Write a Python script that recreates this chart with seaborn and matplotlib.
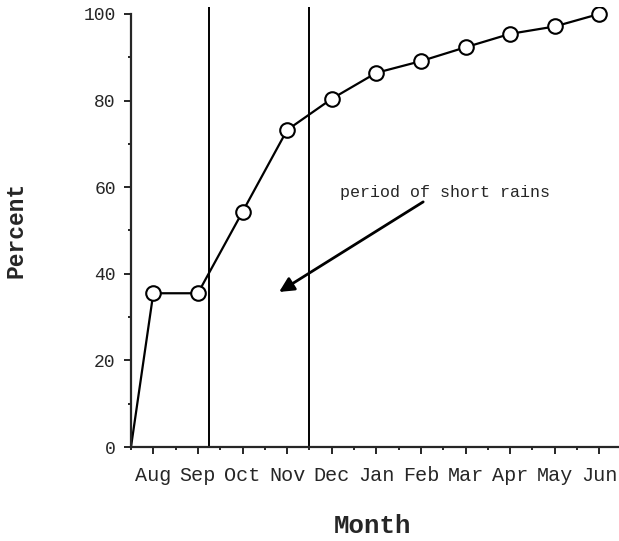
import matplotlib
matplotlib.use("Agg")
import matplotlib.pyplot as plt
import pandas as pd
import seaborn as sns

# ── Data ──────────────────────────────────────────────────────────────────────
MONTHS  = ["Aug", "Sep", "Oct", "Nov", "Dec", "Jan", "Feb", "Mar", "Apr", "May", "Jun"]
PERCENT = [35.5, 35.5, 54.3, 73.2, 80.4, 86.4, 89.1, 92.3, 95.4, 97.1, 100]
START_POS, START_VAL = 0.5, 0          # curve starts at the origin
RAIN_START, RAIN_END = 2.25, 4.5       # period of short rains (month positions)

month_pos = list(range(1, len(MONTHS) + 1))
df = pd.DataFrame({"pos": [START_POS] + month_pos, "pct": [START_VAL] + PERCENT})
df_marks = pd.DataFrame({"pos": month_pos, "pct": PERCENT})

# ── Style ─────────────────────────────────────────────────────────────────────
sns.set_style("ticks")
plt.rcParams["font.family"] = ["Liberation Mono", "DejaVu Sans Mono"]

fig = plt.figure(figsize=(6.19, 5.41), dpi=100)
ax = fig.add_axes([131 / 619, 1 - 447 / 541, 488 / 619, 440 / 541])

for x in (RAIN_START, RAIN_END):
    ax.axvline(x, color="black", lw=1.4, zorder=1)

sns.lineplot(data=df, x="pos", y="pct", color="black", lw=1.6, ax=ax, zorder=2)
sns.scatterplot(data=df_marks, x="pos", y="pct", s=110, color="white",
                edgecolor="black", linewidth=1.5, ax=ax, zorder=3)

# annotation: label plus arrow pointing into the short-rains band
ax.text(5.19, 57.8, "period of short rains", fontsize=12, ha="left", va="baseline")
ax.annotate("", xy=(3.82, 35.8), xytext=(7.05, 56.6),
            arrowprops=dict(arrowstyle="-|>", color="black", lw=2,
                            mutation_scale=22, shrinkA=0, shrinkB=0))

ax.set_xlim(0.5, 11.44)
ax.set_ylim(0, 101.6)
ax.set_xticks(month_pos)
ax.set_xticklabels(MONTHS)
ax.set_xticks([p + 0.5 for p in [0] + month_pos[:-1]], minor=True)
ax.set_yticks(range(0, 101, 20))
ax.set_yticks(range(10, 100, 20), minor=True)
ax.tick_params(axis="both", which="major", width=1.4, length=5)
ax.tick_params(axis="both", which="minor", width=1.4, length=2.5)
ax.tick_params(axis="x", which="major", labelsize=14.5, pad=9)
ax.tick_params(axis="y", which="major", labelsize=13, pad=6)

sns.despine(ax=ax)
ax.spines["left"].set_bounds(0, 100)
for s in ("left", "bottom"):
    ax.spines[s].set_linewidth(1.6)

ax.set_xlabel("Month", fontsize=18.5, fontweight="bold")
ax.set_ylabel("Percent", fontsize=16.5, fontweight="bold")
ax.xaxis.set_label_coords(0.494, -0.152)
ax.yaxis.set_label_coords(-0.212, 0.493)

fig.savefig("out.png", dpi=100)
